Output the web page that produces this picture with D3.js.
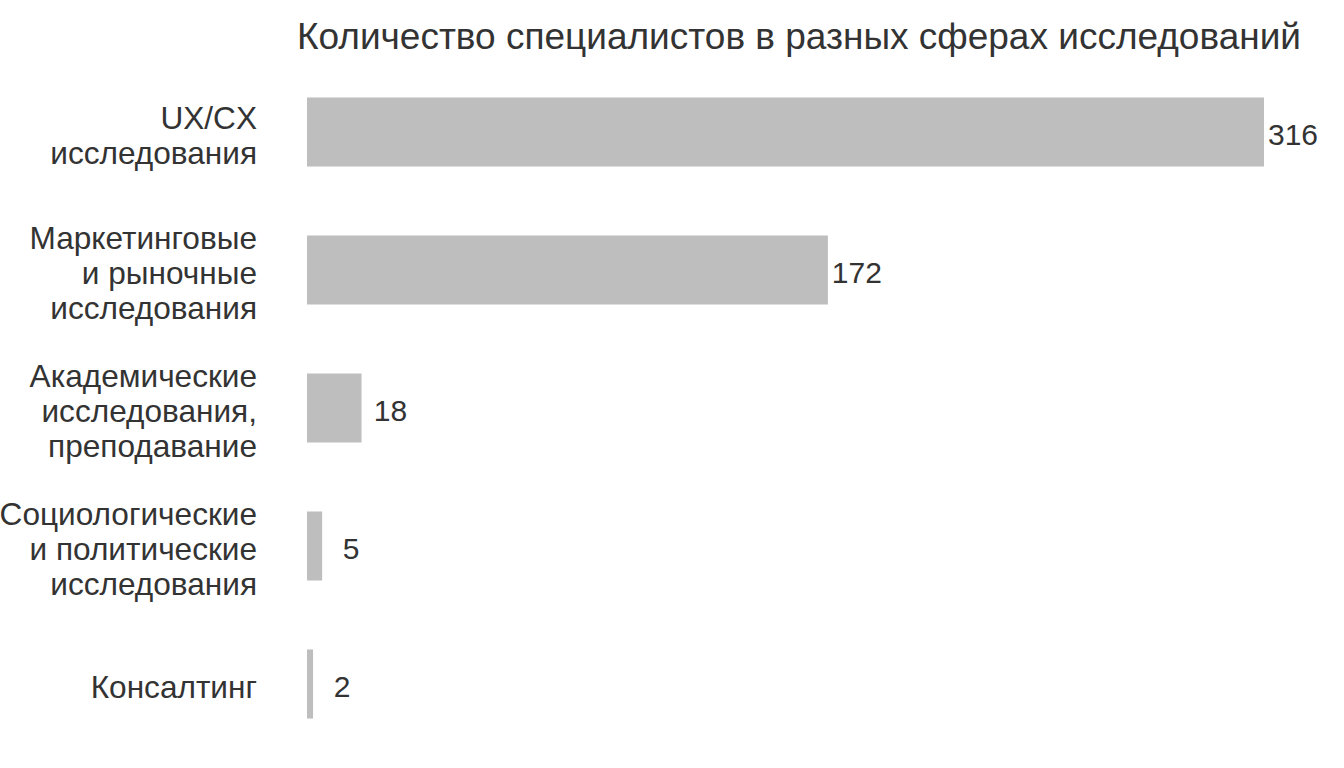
<!DOCTYPE html>
<html>
<head>
<meta charset="utf-8">
<script src="https://cdn.jsdelivr.net/npm/d3@7"></script>
<style>
  body { margin: 0; background: #fff; }
  text { font-family: "Liberation Sans", Arial, sans-serif; fill: #333; }
</style>
</head>
<body>
<div id="wrapper"></div>
<script>
// categories (each label split into its lines) and counts
const categories = [
    ["UX/CX", "исследования"],
    ["Маркетинговые", "и рыночные", "исследования"],
    ["Академические", "исследования,", "преподавание"],
    ["Социологические", "и политические", "исследования"],
    ["Консалтинг"]
];
const counts = [316, 172, 18, 5, 2];
const chartTitle = "Количество специалистов в разных сферах исследований";

const data = categories.map((c, i) => ({ key: i, lines: c, value: counts[i] }));

const dimension = {
    width: 1344,
    height: 768,
    margin: { top: 63, left: 307, bottom: 15, right: 80 }
};
dimension.boundedWidth = dimension.width - dimension.margin.left - dimension.margin.right;
dimension.boundedHeight = dimension.height - dimension.margin.top - dimension.margin.bottom;

const svg = d3.select("#wrapper").append("svg")
    .attr("width", dimension.width)
    .attr("height", dimension.height);

const xScaler = d3.scaleLinear()
    .domain([0, d3.max(counts)])
    .range([0, 957]);

const yScaler = d3.scaleBand()
    .domain(data.map(d => d.key))
    .range([0, dimension.boundedHeight])
    .paddingInner(0.5)
    .paddingOuter(0.25);

const bounded = svg.append("g")
    .attr("transform", `translate(${dimension.margin.left}, ${dimension.margin.top})`);

// bars
bounded.selectAll("rect")
    .data(data)
    .join("rect")
    .attr("x", xScaler(0))
    .attr("y", d => yScaler(d.key))
    .attr("width", d => xScaler(d.value) - xScaler(0))
    .attr("height", yScaler.bandwidth())
    .attr("fill", "#bebebe");

// value labels
bounded.selectAll("text.value")
    .data(data)
    .join("text")
    .attr("class", "value")
    .attr("x", d => xScaler(d.value) + 29)
    .attr("y", d => yScaler(d.key) + yScaler.bandwidth() / 2 + 13)
    .attr("text-anchor", "middle")
    .style("font-size", "30px")
    .text(d => d.value);

// category labels (multi-line, right aligned)
const lineHeight = 35;
const labels = bounded.selectAll("text.cat")
    .data(data)
    .join("text")
    .attr("class", "cat")
    .attr("text-anchor", "end")
    .style("font-size", "31.6px");

labels.each(function(d) {
    const cy = yScaler(d.key) + yScaler.bandwidth() / 2 + 14;
    const n = d.lines.length;
    d3.select(this).selectAll("tspan")
        .data(d.lines)
        .join("tspan")
        .attr("x", -50)
        .attr("y", (l, i) => cy + (i - (n - 1) / 2) * lineHeight)
        .text(l => l);
});

// title
svg.append("text")
    .attr("x", 799)
    .attr("y", 49)
    .attr("text-anchor", "middle")
    .style("font-size", "37px")
    .text(chartTitle);
</script>
</body>
</html>
